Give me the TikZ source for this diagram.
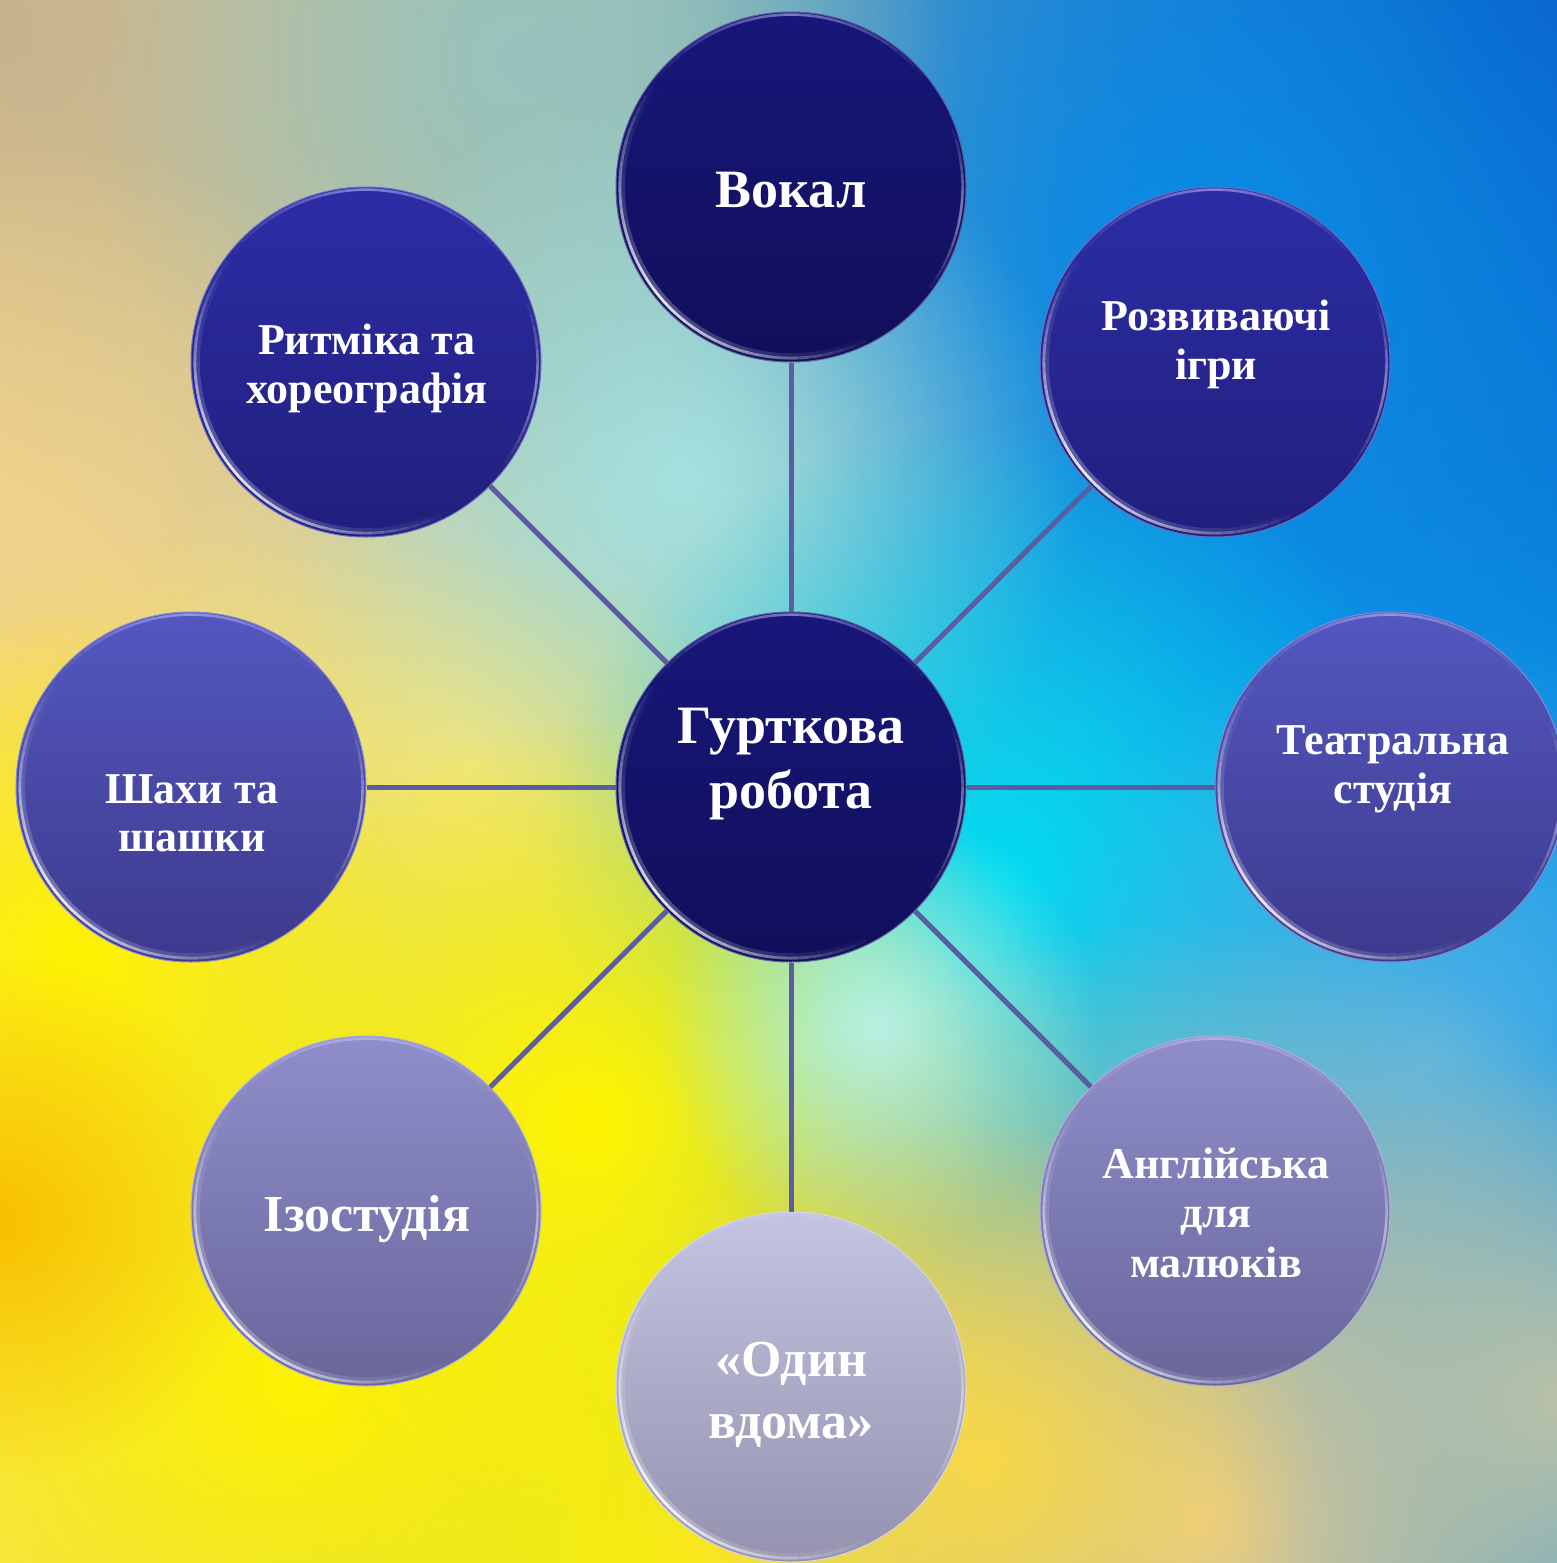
\documentclass[tikz,border=0pt]{standalone}
\usepackage{fontspec}
\setmainfont{Liberation Serif}
\usetikzlibrary{fadings,calc}
\tikzfading[name=fuzzy, inner color=transparent!0, outer color=transparent!100]
\definecolor{bgL}{HTML}{EED48C}
\definecolor{bgM}{HTML}{86D8E4}
\definecolor{bgR}{HTML}{0A8CE6}
\definecolor{bTR}{HTML}{0A5FC8}
\definecolor{bTan}{HTML}{C6B28E}
\definecolor{bTeal}{HTML}{98C4BE}
\definecolor{bPale}{HTML}{A6E2E0}
\definecolor{bPeach}{HTML}{F2D48C}
\definecolor{bCream}{HTML}{F2E2A8}
\definecolor{bCyan}{HTML}{00DCF2}
\definecolor{bMint}{HTML}{B8F2E6}
\definecolor{bBlue}{HTML}{0CA2EE}
\definecolor{bLBlue}{HTML}{50B4E6}
\definecolor{bYel}{HTML}{FFF200}
\definecolor{bYel2}{HTML}{FFF500}
\definecolor{bYelO}{HTML}{F8D848}
\definecolor{bOra}{HTML}{F8C000}
\definecolor{bTan2}{HTML}{EACC90}
\definecolor{bGrey}{HTML}{BAC2A8}
\definecolor{navyT}{HTML}{17177A}
\definecolor{navyB}{HTML}{110F5A}
\definecolor{blueT}{HTML}{2C2DA6}
\definecolor{blueB}{HTML}{211F7C}
\definecolor{violT}{HTML}{5457C0}
\definecolor{violB}{HTML}{3D3A8C}
\definecolor{lavT}{HTML}{8F8ECA}
\definecolor{lavB}{HTML}{68669A}
\definecolor{greyT}{HTML}{C4C4E0}
\definecolor{greyB}{HTML}{9492AE}
\definecolor{linec}{HTML}{5C5CA2}
\definecolor{rimc}{HTML}{C8C8FF}
\tikzset{
  bub/.style 2 args={circle, minimum size=175pt, inner sep=0pt, top color=#1, bottom color=#2, draw=#1!70!white, line width=0.5pt},
  lblS/.style={text=white, font=\bfseries\fontsize{22}{24}\selectfont, anchor=base, inner sep=0pt},
  lblL/.style={text=white, font=\bfseries\fontsize{27}{30}\selectfont, anchor=base, inner sep=0pt},
  lblM/.style={text=white, font=\bfseries\fontsize{26}{28}\selectfont, anchor=base, inner sep=0pt},
  conn/.style={draw=linec, line width=2.5pt},
  blob/.style={fill=#1, path fading=fuzzy}
}
\newcommand\glossy[1]{%
  \foreach \a in {140,144,...,296}{%
    \pgfmathsetmacro\op{max(0,0.9-abs(\a-218)/78*0.9)}%
    \draw[white, opacity=\op, line width=1.4pt] ($(#1.center)+(\a:85.6pt)$) arc[start angle=\a, end angle=\a+4, radius=85.6pt];
    \pgfmathsetmacro\opb{0.3*\op}%
    \draw[white, opacity=\opb, line width=2.2pt] ($(#1.center)+(\a:84.2pt)$) arc[start angle=\a, end angle=\a+4, radius=84.2pt];
  }
  \foreach \a in {36,40,...,140}{%
    \pgfmathsetmacro\op{max(0,0.55-abs(\a-88)/52*0.55)}%
    \draw[rimc, opacity=\op, line width=1.3pt] ($(#1.center)+(\a:86.2pt)$) arc[start angle=\a, end angle=\a+4, radius=86.2pt];
  }
  \foreach \a in {-40,-36,...,20}{%
    \pgfmathsetmacro\op{max(0,0.45-abs(\a+10)/30*0.45)}%
    \draw[white, opacity=\op, line width=1.3pt] ($(#1.center)+(\a:85.8pt)$) arc[start angle=\a, end angle=\a+4, radius=85.8pt];
  }
}
\begin{document}
\begin{tikzpicture}[x=0.5pt,y=-0.5pt]
\useasboundingbox (0,0) rectangle (1557,1563);
\begin{scope}
\clip (0,0) rectangle (1557,1563);
\shade[left color=bgL, middle color=bgM, right color=bgR] (0,0) rectangle (1557,1563);
\fill[blob=bBlue] (1330,650) circle[radius=290pt];
\fill[blob=bTR] (1557,0) circle[radius=450pt];
\fill[blob=bgR] (1200,250) circle[radius=270pt];
\fill[blob=bTan] (0,30) circle[radius=300pt];
\fill[blob=bTeal] (520,60) circle[radius=220pt];
\fill[blob=bPeach] (40,620) circle[radius=240pt];
\fill[blob=bCream] (470,760) circle[radius=190pt];
\fill[blob=bPale] (680,480) circle[radius=200pt];
\fill[blob=bCyan] (1000,880) circle[radius=230pt];
\fill[blob=bLBlue] (1430,1060) circle[radius=220pt];
\fill[blob=bYel] (300,1380) circle[radius=430pt];
\fill[blob=bYel2] (590,1120) circle[radius=200pt];
\fill[blob=bYel] (80,950) circle[radius=170pt];
\fill[blob=bYel] (700,1563) circle[radius=200pt];
\fill[blob=bMint] (880,1030) circle[radius=110pt];
\fill[blob=bOra] (0,1220) circle[radius=130pt];
\fill[blob=bTan2] (1200,1520) circle[radius=300pt];
\fill[blob=bYelO] (980,1460) circle[radius=170pt];
\fill[blob=bGrey] (1557,1400) circle[radius=170pt];
\end{scope}

\node[bub={navyT}{navyB}] (gur) at (791,787) {};
\node[bub={navyT}{navyB}] (vok) at (791,187) {};
\node[bub={blueT}{blueB}] (roz) at (1215,362) {};
\node[bub={blueT}{blueB}] (rit) at (366,362) {};
\node[bub={violT}{violB}] (tea) at (1390,787) {};
\node[bub={violT}{violB}] (sha) at (191,787) {};
\node[bub={lavT}{lavB}] (ang) at (1215,1211) {};
\node[bub={lavT}{lavB}] (izo) at (366,1211) {};
\node[bub={greyT}{greyB}] (odn) at (791,1387) {};

\foreach \n in {gur,vok,roz,rit,tea,sha,ang,izo,odn}{\glossy{\n}}

\draw[conn] (gur) -- (vok);
\draw[conn] (gur) -- (roz);
\draw[conn] (gur) -- (tea);
\draw[conn] (gur) -- (ang);
\draw[conn] (gur) -- (odn);
\draw[conn] (gur) -- (izo);
\draw[conn] (gur) -- (sha);
\draw[conn] (gur) -- (rit);

\node[lblL] (t-vok) at (791,207) {Вокал};
\node[lblL] (t-gur1) at (791,743) {Гурткова};
\node[lblL] (t-gur2) at (791,808) {робота};
\node[lblS] (t-roz1) at (1216,330) {Розвиваючі};
\node[lblS] (t-roz2) at (1216,379) {ігри};
\node[lblS] (t-rit1) at (367,354) {Ритміка та};
\node[lblS] (t-rit2) at (367,403) {хореографія};
\node[lblS] (t-tea1) at (1393,754) {Театральна};
\node[lblS] (t-tea2) at (1393,803) {студія};
\node[lblS] (t-sha1) at (192,803) {Шахи та};
\node[lblS] (t-sha2) at (192,851) {шашки};
\node[lblS] (t-ang1) at (1216,1178) {Англійська};
\node[lblS] (t-ang2) at (1216,1227) {для};
\node[lblS] (t-ang3) at (1216,1277) {малюків};
\node[lblM] (t-izo) at (367,1231) {Ізостудія};
\node[lblM] (t-odn1) at (791,1376) {«Один};
\node[lblM] (t-odn2) at (791,1438) {вдома»};
\end{tikzpicture}
\end{document}
